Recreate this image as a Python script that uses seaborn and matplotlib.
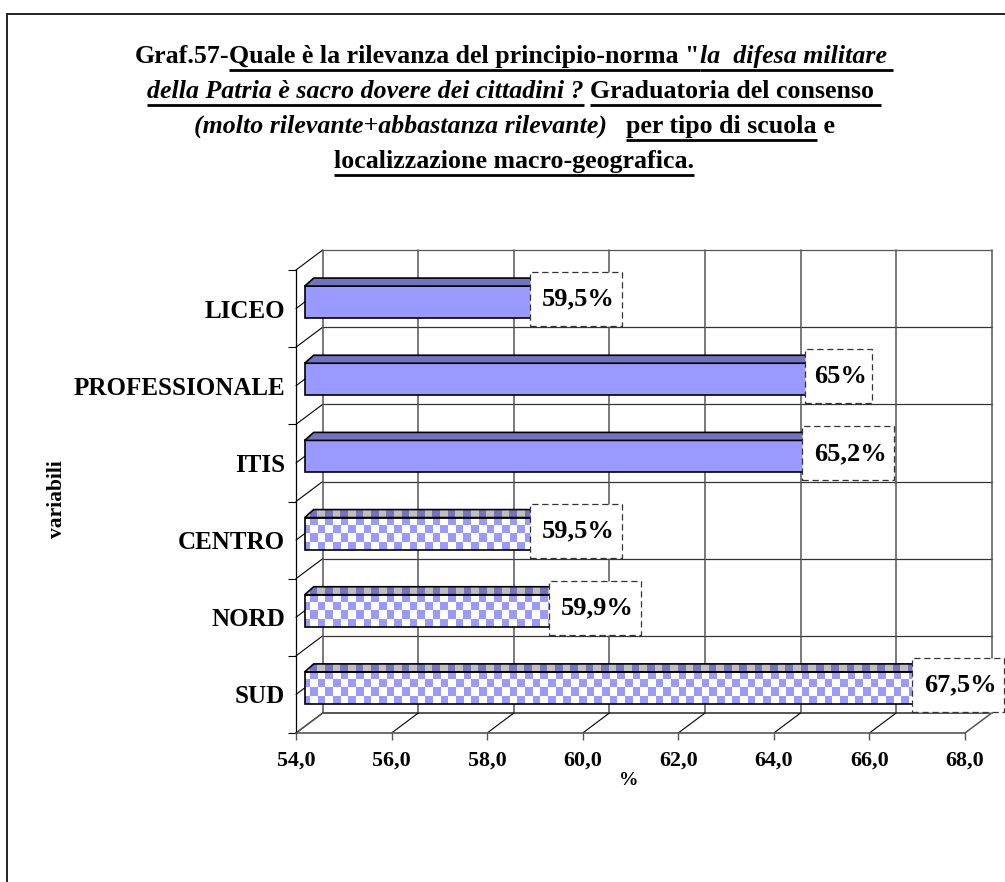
import matplotlib
matplotlib.use("Agg")
import matplotlib.pyplot as plt
import numpy as np
import pandas as pd
import seaborn as sns
from matplotlib.colors import ListedColormap
from matplotlib.lines import Line2D
from matplotlib.patches import Polygon, Rectangle
from matplotlib.transforms import IdentityTransform

categories = ["LICEO", "PROFESSIONALE", "ITIS", "CENTRO", "NORD", "SUD"]
values = [59.5, 65.0, 65.2, 59.5, 59.9, 67.5]
value_labels = ["59,5%", "65%", "65,2%", "59,5%", "59,9%", "67,5%"]
checkered = [False, False, False, True, True, True]
x_ticks = [54, 56, 58, 60, 62, 64, 66, 68]

title_lines = [
    [("Graf.57-", "normal", False),
     ("Quale è la rilevanza del principio-norma \"", "normal", True),
     ("la  difesa militare ", "italic", True)],
    [("della Patria è sacro dovere dei cittadini ?", "italic", True),
     (" ", "normal", False),
     ("Graduatoria del consenso ", "normal", True)],
    [("(molto rilevante+abbastanza rilevante)", "italic", False),
     ("   ", "normal", False),
     ("per tipo di scuola", "normal", True),
     (" e", "normal", False)],
    [("localizzazione macro-geografica.", "normal", True)],
]

W, H = 1005, 882
PURPLE = "#9999FF"
DARK = "#7373BF"
GRID = "#555555"
CELL = 7.67
# depth of the 3d box in pixels, and where the bars sit inside it
DX, DY = 26.7, 20.0
BAR_DX, BAR_DY = 8.7, 6.5
TOP_DX, TOP_DY = 9.0, 8.0

sns.set_theme(style="white")
plt.rcParams["font.family"] = ["Liberation Serif", "DejaVu Serif"]
plt.rcParams["font.weight"] = "bold"

fig = plt.figure(figsize=(W / 100, H / 100), dpi=100, facecolor="white")
ax = fig.add_axes([296 / W, 1 - 733 / H, 669 / W, 463 / H])
ax.patch.set_alpha(0)

df = pd.DataFrame({"categoria": categories, "valore": values})
sns.barplot(
    data=df,
    x="valore",
    y="categoria",
    order=categories,
    orient="h",
    color=PURPLE,
    saturation=1,
    width=0.415,
    edgecolor="black",
    linewidth=1.2,
    ax=ax,
)
ax.set_xlim(54, 68)
ax.set_ylim(5.5, -0.5)
ax.set_xticks(x_ticks)
ax.set_xticklabels([f"{t},0" for t in x_ticks], fontsize=15.8, color="black", fontweight="bold")
ax.set_yticks(range(len(categories)))
ax.set_yticklabels(categories, fontsize=18, color="black", fontweight="bold")
boundaries = np.arange(-0.5, len(categories))
ax.set_yticks(boundaries, minor=True)
ax.tick_params(axis="y", which="major", length=0, pad=8)
ax.tick_params(axis="y", which="minor", length=6, width=0.8, color="black", left=True)
ax.tick_params(axis="x", length=5, width=1, color=GRID, bottom=True, pad=8)
sns.despine(ax=ax, top=True, right=True)
ax.spines["left"].set_color("black")
ax.spines["left"].set_linewidth(0.9)
ax.spines["bottom"].set_color(GRID)
ax.spines["bottom"].set_linewidth(1.2)

ax.set_xlabel("%", fontsize=14, fontweight="bold", color="black")
ax.xaxis.set_label_coords(0.498, -0.085)
ax.set_ylabel("variabili", fontsize=15.5, fontweight="bold", color="black")
ax.yaxis.set_label_coords(-0.343, 0.505)


def px(x, y):
    return ax.transData.transform((x, y))


def draw_px(xs, ys, color=GRID, lw=1.0, z=1):
    ax.add_line(Line2D(xs, ys, color=color, lw=lw, transform=IdentityTransform(),
                       clip_on=False, zorder=z))


# back wall, left wall and floor of the 3d box
for b in boundaries:
    x0, y0 = px(54, b)
    x1, y1 = px(68, b)
    draw_px([x0 + DX, x1 + DX], [y0 + DY, y1 + DY], color=GRID if b in (-0.5, 5.5) else "#333333",
            lw=1.4 if b == 5.5 else 0.9)
    draw_px([x0, x0 + DX], [y0, y0 + DY], color="black", lw=0.8)
for c in range(len(categories)):
    x0, y0 = px(54, c)
    draw_px([x0, x0 + DX], [y0, y0 + DY], color="black", lw=0.8)
for t in x_ticks:
    x0, y0 = px(t, 5.5)
    x1, y1 = px(t, -0.5)
    draw_px([x0 + DX, x1 + DX], [y0 + DY, y1 + DY], lw=1.1)
    edge = t in (54, 68)
    draw_px([x0, x0 + DX], [y0, y0 + DY], color=GRID if edge else "black", lw=1.1 if edge else 0.8)


def checker(rows, cols, c0, c1, phase=0):
    grid = (np.indices((rows, cols)).sum(axis=0) + phase) % 2
    return grid, ListedColormap([c0, c1])


# bars sit a little inside the box, so shift them and add the top face
for bar, is_check, label, val in zip(ax.patches, checkered, value_labels, values):
    x0, y0 = px(54, bar.get_y())
    x1, y1 = px(bar.get_x() + bar.get_width(), bar.get_y() + bar.get_height())
    x0, x1 = x0 + BAR_DX, x1 + BAR_DX
    y0, y1 = y0 + BAR_DY, y1 + BAR_DY
    # inverted y axis: get_y is the upper edge on screen
    bar.set_transform(IdentityTransform())
    bar.set_bounds(x0, y1, x1 - x0, y0 - y1)
    bar.set_clip_on(False)
    bar.set_zorder(4)
    top = Polygon([(x0, y0), (x0 + TOP_DX, y0 + TOP_DY), (x1 + TOP_DX, y0 + TOP_DY), (x1, y0)],
                  closed=True, transform=IdentityTransform(), facecolor=DARK,
                  edgecolor="black", lw=1.2, clip_on=False, zorder=4)
    ax.add_patch(top)
    if is_check:
        bar.set_facecolor("none")
        top.set_facecolor("none")
        cols = int((x1 - x0 + TOP_DX) / CELL) + 2
        start = x0 - 2.67
        stop = start + cols * CELL
        arr, cmap = checker(4, cols, PURPLE, "white", phase=1)
        front = ax.imshow(arr, extent=(start, stop, y1, y0), cmap=cmap, aspect="auto",
                          interpolation="nearest", transform=IdentityTransform(), zorder=3)
        front.set_clip_path(Rectangle((x0, y1), x1 - x0, y0 - y1, transform=IdentityTransform()))
        arr, cmap = checker(1, cols, "#BFBFBF", DARK)
        face = ax.imshow(arr, extent=(start, stop, y0, y0 + TOP_DY), cmap=cmap, aspect="auto",
                         interpolation="nearest", transform=IdentityTransform(), zorder=3)
        face.set_clip_path(Polygon([(x0, y0), (x0 + TOP_DX, y0 + TOP_DY),
                                    (x1 + TOP_DX, y0 + TOP_DY), (x1, y0)],
                                   transform=IdentityTransform()))
    # value label: white dashed box that hides the end of the bar
    cx, cy = x1 + 8.4, (y0 + y1) / 2 + 3
    txt = ax.text(cx + 2, cy, label, fontsize=19, fontweight="bold", color="black", ha="center",
                  va="center", transform=IdentityTransform(), zorder=7, clip_on=False)
    w = txt.get_window_extent(fig.canvas.get_renderer()).width * 1.26
    ax.add_patch(Rectangle((cx - w / 2, cy - 27), w, 54, transform=IdentityTransform(),
                           facecolor="white", edgecolor="#333333", lw=0.9, ls=(0, (5, 3)),
                           clip_on=False, zorder=6))

ax.set_xlim(54, 68)
ax.set_ylim(5.5, -0.5)

# title: bold and italic runs, some underlined, laid out by hand
renderer = fig.canvas.get_renderer()
baselines = [63, 98, 133, 168]
TITLE_SIZE = 18.6
for runs, base in zip(title_lines, baselines):
    pieces = [fig.text(0, 1 - base / H, s, fontsize=TITLE_SIZE, fontstyle=st, fontweight="bold",
                       color="black", va="baseline", ha="left") for s, st, _ in runs]
    widths = []
    for p, (s, st, _) in zip(pieces, runs):
        # trailing spaces do not count in the extent, so measure them with a dot
        probe = fig.text(0, 0, s + ".", fontsize=TITLE_SIZE, fontstyle=st, fontweight="bold")
        dot = fig.text(0, 0, ".", fontsize=TITLE_SIZE, fontstyle=st, fontweight="bold")
        widths.append(probe.get_window_extent(renderer).width - dot.get_window_extent(renderer).width)
        probe.remove()
        dot.remove()
    x = 514 - sum(widths) / 2
    for p, w, (_, _, under) in zip(pieces, widths, runs):
        p.set_x(x / W)
        if under:
            fig.add_artist(Line2D([x / W, (x + w) / W], [1 - (base + 6.5) / H] * 2, color="black",
                                  lw=2.0, solid_capstyle="butt"))
        x += w

# outer frame, only the top and left edges fall inside the picture
fig.add_artist(Line2D([7 / W, 1], [1 - 14 / H] * 2, color="#222222", lw=1.4))
fig.add_artist(Line2D([7 / W] * 2, [1 - 14 / H, 0], color="#222222", lw=1.4))

fig.savefig("out.png", dpi=100, facecolor="white")
